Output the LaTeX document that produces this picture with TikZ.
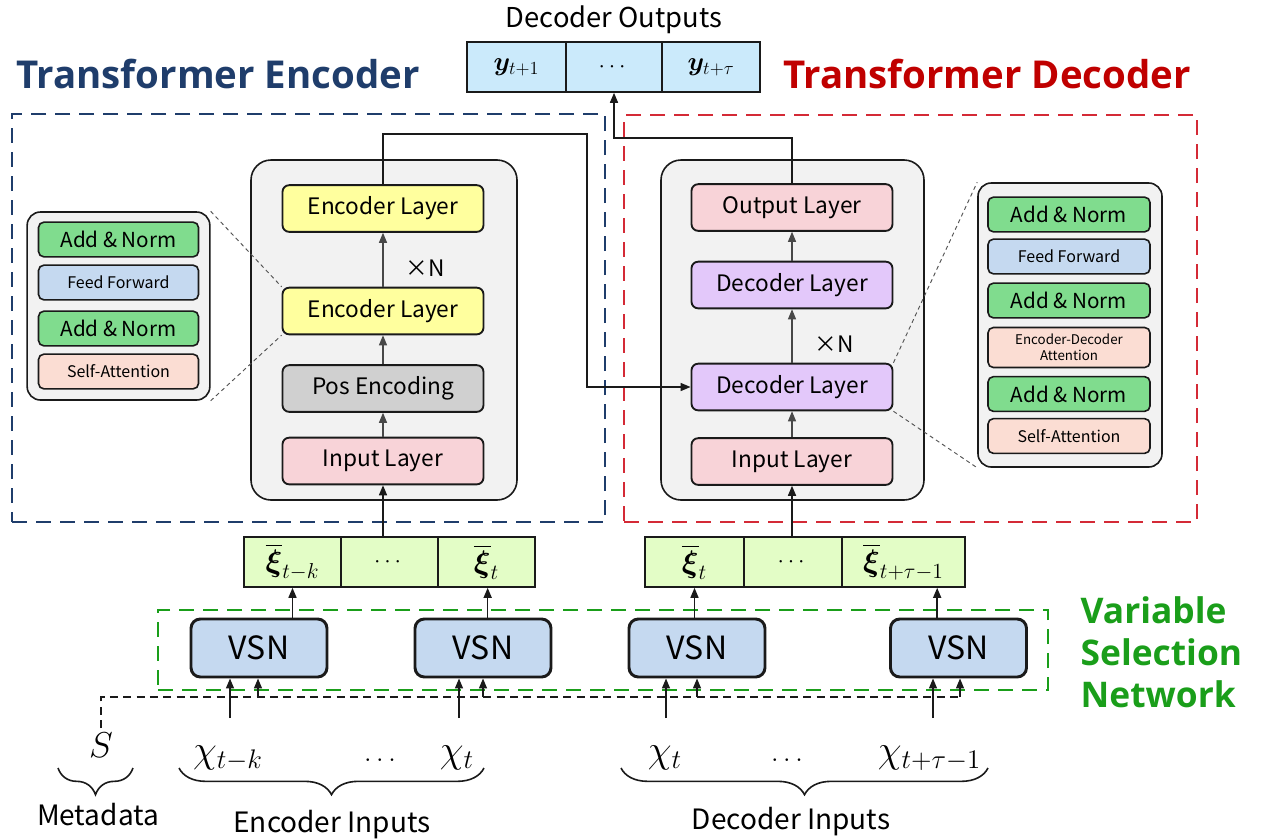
\documentclass[tikz,border=0pt]{standalone}
\usepackage{fontspec}
\usepackage{amsmath,bm}
\setmainfont{Noto Sans CJK JP}
\newfontfamily\boldsans{Open Sans}
\usetikzlibrary{arrows.meta,decorations.pathreplacing,calc}
\newcommand{\mlab}[2]{\scalebox{#1}{$#2$}}
\definecolor{encblue}{HTML}{1F3D6B}
\definecolor{decred}{HTML}{C00000}
\definecolor{decdash}{HTML}{D42A36}
\definecolor{vsngreen}{HTML}{1A9E1A}
\definecolor{yel}{HTML}{FFFF9E}
\definecolor{posgray}{HTML}{D0D0D0}
\definecolor{pinkl}{HTML}{F8D3D8}
\definecolor{purp}{HTML}{E3C8FA}
\definecolor{greenb}{HTML}{80DC8E}
\definecolor{blueb}{HTML}{C5D9F0}
\definecolor{salmon}{HTML}{FBDDD3}
\definecolor{outblue}{HTML}{CBEAFB}
\definecolor{xigreen}{HTML}{E3FDC6}
\definecolor{panel}{HTML}{F2F2F2}
\definecolor{ink}{HTML}{1A1A1A}
\tikzset{
  layer/.style={draw=ink, line width=1.4pt, rounded corners=5pt, minimum width=150.75pt, minimum height=35pt, inner sep=0pt, font=\fontsize{17}{20}\selectfont},
  panelbox/.style={draw=ink, line width=1.2pt, fill=panel, rounded corners=15pt, inner sep=0pt},
  subbox/.style={draw=ink, line width=1.2pt, rounded corners=4pt, minimum width=120pt, minimum height=26pt, inner sep=0pt},
  bigsub/.style={subbox, font=\fontsize{15.5}{18}\selectfont},
  smallsub/.style={subbox, font=\fontsize{12}{14}\selectfont},
  cell/.style={draw=ink, line width=1.2pt, minimum height=37.5pt, inner sep=0pt, font=\fontsize{17.28}{20}\selectfont},
  vsnbox/.style={draw=ink, line width=2.2pt, fill=blueb, rounded corners=7pt, minimum width=102pt, minimum height=43.5pt, inner sep=0pt, font=\fontsize{24}{26}\selectfont},
  arr/.style={-{Triangle[length=7.5pt,width=6pt]}, line width=1.1pt, draw=ink},
  thinarr/.style={-{Triangle[length=7.5pt,width=6pt]}, line width=0.8pt, draw=ink!80},
  frame/.style={line width=2.2pt, dash pattern=on 11pt off 7pt, inner sep=0pt},
  detail/.style={draw=ink!75, line width=0.7pt, dash pattern=on 3pt off 2.5pt},
  metaline/.style={draw=ink, line width=1.4pt, dash pattern=on 6pt off 4pt},
  brace/.style={decorate, decoration={brace, mirror, amplitude=20pt}, line width=1.2pt, draw=ink},
  lbl/.style={font=\fontsize{21}{24}\selectfont},
  mlbl/.style={font=\fontsize{20.74}{24}\selectfont},
  titlef/.style={font=\boldsans\bfseries\fontsize{28.8}{32}\selectfont}
}
\begin{document}
\begin{tikzpicture}[x=0.75pt,y=-0.75pt]
\fill[white] (0,0) rectangle (1269,839);
\useasboundingbox (0,0) rectangle (1269,839);

% titles
\node[font=\fontsize{20.5}{24}\selectfont] (decout) at (614,20) {Decoder Outputs};
\node[titlef, text=encblue] (enctitle) at (218,74) {Transformer Encoder};
\node[titlef, text=decred] (dectitle) at (987,74) {Transformer Decoder};
\node[font=\boldsans\bfseries\fontsize{26.5}{31.5}\selectfont, text=vsngreen, align=left, anchor=west] (vsntitle) at (1076,652) {Variable\\Selection\\Network};

% output cells
\node[cell, fill=outblue, minimum width=74.25pt] (y1) at (516.5,67) {\mlab{1.15}{\bm{y}_{t+1}}};
\node[cell, fill=outblue, minimum width=72pt] (y2) at (614,67) {$\cdots$};
\node[cell, fill=outblue, minimum width=73.5pt] (y3) at (711,67) {\mlab{1.15}{\bm{y}_{t+\tau}}};

% dashed frames
\node[frame, draw=encblue, minimum width=444.75pt, minimum height=306pt] (encframe) at (308.5,318) {};
\node[frame, draw=decdash, minimum width=429.75pt, minimum height=305.25pt] (decframe) at (910.5,318.5) {};

% panels
\node[panelbox, minimum width=199.5pt, minimum height=255pt] (encpanel) at (384,330) {};
\node[panelbox, minimum width=197.25pt, minimum height=255pt] (decpanel) at (792.5,330) {};

% encoder layers
\node[layer, fill=yel] (encL2) at (383,208.5) {Encoder Layer};
\node[layer, fill=yel] (encL1) at (383,311) {Encoder Layer};
\node[layer, fill=posgray] (pos) at (383,388.5) {Pos Encoding};
\node[layer, fill=pinkl] (encIn) at (383,461) {Input Layer};
\node[font=\fontsize{17}{20}\selectfont] (encN) at (425,268) {×N};

% decoder layers
\node[layer, fill=pinkl] (outL) at (792,207.5) {Output Layer};
\node[layer, fill=purp] (decL2) at (792,285) {Decoder Layer};
\node[layer, fill=purp] (decL1) at (792,387) {Decoder Layer};
\node[layer, fill=pinkl] (decIn) at (792,461.5) {Input Layer};
\node[font=\fontsize{17}{20}\selectfont] (decN) at (834,344) {×N};

% internal arrows
\draw[thinarr] (encIn.north) -- (pos.south);
\draw[thinarr] (pos.north) -- (encL1.south);
\draw[thinarr] (encL1.north) -- (encL2.south);
\draw[thinarr] (decIn.north) -- (decL1.south);
\draw[thinarr] (decL1.north) -- (decL2.south);
\draw[thinarr] (decL2.north) -- (outL.south);

% encoder -> decoder, decoder -> outputs
\coordinate (ecorner) at (587,134);
\draw[arr] (encL2.north) |- (ecorner) |- (decL1.west);
\coordinate (dcorner) at (614,138);
\draw[arr] (outL.north) |- (dcorner) -- (y2.south);

% left detail box
\node[panelbox, rounded corners=10pt, minimum width=137pt, minimum height=141pt] (ldet) at (118.5,306) {};
\node[bigsub, fill=greenb] (la1) at (118.5,239.5) {Add \& Norm};
\node[smallsub, fill=blueb] (lff) at (118.5,282.5) {Feed Forward};
\node[bigsub, fill=greenb] (la2) at (118.5,328.5) {Add \& Norm};
\node[smallsub, fill=salmon] (lsa) at (118.5,371.5) {Self-Attention};
\draw[detail] (ldet.north east) -- (encL1.north west);
\draw[detail] (ldet.south east) -- (encL1.south west);

% right detail box
\node[panelbox, rounded corners=10pt, minimum width=138pt, minimum height=213pt] (rdet) at (1070,325) {};
\node[bigsub, fill=greenb, minimum width=121.5pt] (ra1) at (1069,214.5) {Add \& Norm};
\node[smallsub, fill=blueb, minimum width=121.5pt] (rff) at (1069,256.5) {Feed Forward};
\node[bigsub, fill=greenb, minimum width=121.5pt] (ra2) at (1069,300.5) {Add \& Norm};
\node[subbox, fill=salmon, minimum width=121.5pt, minimum height=30pt, align=center, font=\fontsize{10}{12}\selectfont] (reda) at (1069,347.5) {Encoder-Decoder\\Attention};
\node[bigsub, fill=greenb, minimum width=121.5pt] (ra3) at (1069,394) {Add \& Norm};
\node[smallsub, fill=salmon, minimum width=121.5pt] (rsa) at (1069,436) {Self-Attention};
\draw[detail] (decL1.north east) -- (rdet.north west);
\draw[detail] (decL1.south east) -- (rdet.south west);

% xi cells
\node[cell, fill=xigreen, minimum width=72.75pt] (xe1) at (292.5,562) {\mlab{1.35}{\overline{\bm{\xi}}_{t-k}}};
\node[cell, fill=xigreen, minimum width=72.75pt] (xe2) at (389.5,562) {$\cdots$};
\node[cell, fill=xigreen, minimum width=72.75pt] (xe3) at (486.5,562) {\mlab{1.35}{\overline{\bm{\xi}}_{t}}};
\node[cell, fill=xigreen, minimum width=74.25pt] (xd1) at (694.5,562) {\mlab{1.35}{\overline{\bm{\xi}}_{t}}};
\node[cell, fill=xigreen, minimum width=73.5pt] (xd2) at (793,562) {$\cdots$};
\node[cell, fill=xigreen, minimum width=92.25pt] (xd3) at (903.5,562) {\mlab{1.35}{\overline{\bm{\xi}}_{t+\tau-1}}};

\draw[arr] (encIn.south |- xe2.north) -- (encIn.south);
\draw[arr] (decIn.south |- xd2.north) -- (decIn.south);

% VSN
\node[frame, draw=vsngreen, minimum width=667.5pt, minimum height=60pt] (vsnframe) at (603,650) {};
\node[vsnbox] (vsn1) at (259,648) {VSN};
\node[vsnbox] (vsn2) at (483,648) {VSN};
\node[vsnbox] (vsn3) at (697,648) {VSN};
\node[vsnbox] (vsn4) at (958.5,648) {VSN};

\draw[arr] (vsn1.north -| xe1.south) -- (xe1.south);
\draw[arr] ([xshift=3.5pt]vsn2.north) -- ([xshift=3.5pt]vsn2.north |- xe3.south);
\draw[arr] (vsn3.north -| xd1.south) -- (xd1.south);
\draw[arr] ([xshift=-16pt]vsn4.north) -- ([xshift=-16pt]vsn4.north |- xd3.south);

% inputs
\node[mlbl] (S) at (101,745) {\mlab{1.3}{S}};
\node[mlbl] (xek) at (228,758) {\mlab{1.4}{\chi_{t-k}}};
\node[mlbl] (xedots) at (380,760) {$\ldots$};
\node[mlbl] (xet) at (457,758) {\mlab{1.4}{\chi_{t}}};
\node[mlbl] (xdt) at (665,758) {\mlab{1.4}{\chi_{t}}};
\node[mlbl] (xddots) at (787,760) {$\ldots$};
\node[mlbl] (xdl) at (929.5,758) {\mlab{1.4}{\chi_{t+\tau-1}}};

\coordinate (dend) at (958,697);
\draw[metaline] (S.north) |- (dend);
\coordinate (m1) at (258,697);
\coordinate (m2) at (483,697);
\coordinate (m3) at (697,697);
\coordinate (m4) at (960,697);
\draw[arr] (m1) -- (m1 |- vsn1.south);
\draw[arr] (m2) -- (m2 |- vsn2.south);
\draw[arr] (m3) -- (m3 |- vsn3.south);
\draw[arr] (m4) -- (m4 |- vsn4.south);

\coordinate (i1) at (230,718);
\coordinate (i2) at (459,718);
\coordinate (i3) at (666,718);
\coordinate (i4) at (933,718);
\draw[arr] (i1) -- (i1 |- vsn1.south);
\draw[arr] (i2) -- (i2 |- vsn2.south);
\draw[arr] (i3) -- (i3 |- vsn3.south);
\draw[arr] (i4) -- (i4 |- vsn4.south);

% braces
\draw[brace] (58,768) -- (133,768);
\draw[brace] (179,768) -- (484,768);
\draw[brace] (621,768) -- (988,768);
\node[lbl] (meta) at (98,815) {Metadata};
\node[lbl] (encinp) at (332,825) {Encoder Inputs};
\node[lbl] (decinp) at (791,822) {Decoder Inputs};
\end{tikzpicture}
\end{document}
